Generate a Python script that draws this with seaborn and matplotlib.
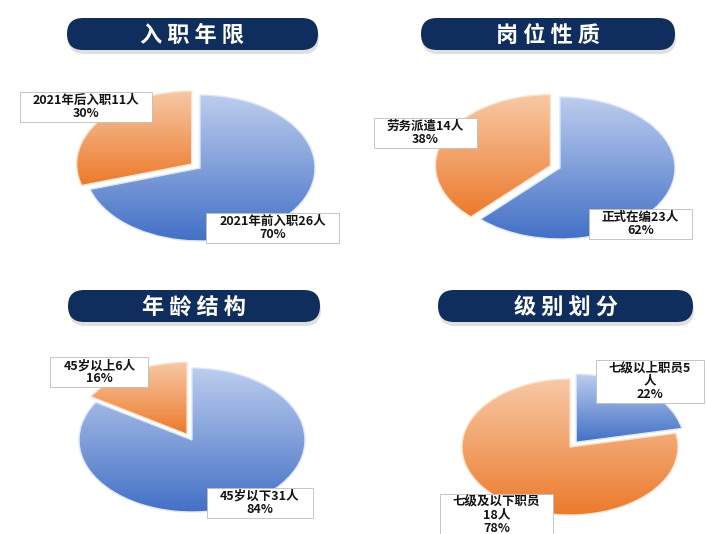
import numpy as np
import seaborn as sns
import matplotlib.pyplot as plt
from matplotlib.patches import FancyBboxPatch, Rectangle

sns.set_theme(style='white')
plt.rcParams['font.family'] = ['Noto Sans CJK SC', 'DejaVu Sans']

# dati dei quattro grafici
titles = ['入职年限', '岗位性质', '年龄结构', '级别划分']
counts = [[26, 11], [23, 14], [31, 6], [5, 18]]
slice_labels = [
    ['2021年前入职26人', '2021年后入职11人'],
    ['正式在编23人', '劳务派遣14人'],
    ['45岁以下31人', '45岁以上6人'],
    ['七级以上职员5\n人', '七级及以下职员\n18人'],
]

# layout in pixel (figura 707x534)
W, H = 707, 534
pie_boxes = [(200, 168, 115, 73), (560, 168, 115, 71), (192, 440, 113, 72), (570, 447, 108, 68)]
pill_boxes = [(67, 18, 251, 32), (421, 18, 254, 32), (68, 290, 252, 32), (438, 290, 255, 32)]
label_pos = [
    [(0.63, -0.82), (-0.99, 0.84)],
    [(0.70, -0.79), (-1.17, 0.49)],
    [(0.60, -0.875), (-0.82, 0.94)],
    [(0.74, 0.97), (-0.68, -1.0)],
]

navy = '#102e5d'
cmaps = [sns.blend_palette(['#bccdee', '#4370c6'], as_cmap=True),
         sns.blend_palette(['#f7c9a6', '#ec7a2c'], as_cmap=True)]
edge_cols = ['#dfe7f7', '#fbe2cf']

fig = plt.figure(figsize=(W / 100, H / 100), dpi=100)
fig.patch.set_facecolor('white')

# sfondo con i titoli a pillola
bg = fig.add_axes([0, 0, 1, 1])
bg.set_xlim(0, W)
bg.set_ylim(H, 0)
bg.axis('off')
for (x, y, w, h), t in zip(pill_boxes, titles):
    shadow = FancyBboxPatch((x + 1, y + 4), w, h, boxstyle=f'round,pad=0,rounding_size={h / 2}',
                            fc='#9a9a9a', ec='none', alpha=0.3)
    bg.add_patch(shadow)
    pill = FancyBboxPatch((x, y), w, h, boxstyle=f'round,pad=0,rounding_size={h / 2}',
                          fc=navy, ec='none')
    bg.add_patch(pill)
    bg.text(x + w / 2, y + h / 2 + 1, ' '.join(t), color='white', fontsize=16, fontweight='bold',
            ha='center', va='center')

m = 1.6
grad = np.linspace(0, 1, 256).reshape(-1, 1)
label_texts = []
for i in range(4):
    cx, cy, rx, ry = pie_boxes[i]
    ax = fig.add_axes([(cx - m * rx) / W, 1 - (cy + m * ry) / H, 2 * m * rx / W, 2 * m * ry / H])
    vals = counts[i]
    explode = [0.09 if v == min(vals) else 0 for v in vals]
    wedges, _ = ax.pie(vals, startangle=90, counterclock=False, explode=explode,
                       colors=['none', 'none'],
                       wedgeprops=dict(linewidth=1.0))
    for k, wdg in enumerate(wedges):
        wdg.set_edgecolor(edge_cols[k])
        wdg.set_zorder(3)
        bb = wdg.get_path().get_extents()
        im = ax.imshow(grad, cmap=cmaps[k], extent=(bb.x0, bb.x1, bb.y0, bb.y1),
                       aspect='auto', origin='upper', zorder=2)
        im.set_clip_path(wdg)
    tot = sum(vals)
    for k, v in enumerate(vals):
        lx, ly = label_pos[i][k]
        t = ax.text(lx, ly, f'{slice_labels[i][k]}\n{round(100 * v / tot)}%', fontsize=9,
                    fontweight='bold', color='#141414', ha='center', va='center', zorder=5,
                    linespacing=1.0, clip_on=False)
        label_texts.append((ax, t))
    ax.set_aspect('auto')
    ax.set_xlim(-m, m)
    ax.set_ylim(-m, m)
    ax.axis('off')

# riquadri bianchi delle etichette, un po' più larghi del testo
fig.canvas.draw()
for ax, t in label_texts:
    bb = t.get_window_extent()
    x0, y0 = bb.x0 - 13, bb.y0 - 2
    x1, y1 = bb.x1 + 13, bb.y1 + 2
    (dx0, dy0), (dx1, dy1) = ax.transData.inverted().transform([(x0, y0), (x1, y1)])
    ax.add_patch(Rectangle((dx0, dy0), dx1 - dx0, dy1 - dy0, fc='white', ec='#bdbdbd',
                           lw=0.6, zorder=4, clip_on=False))

fig.savefig('out.png', dpi=100, facecolor='white')
